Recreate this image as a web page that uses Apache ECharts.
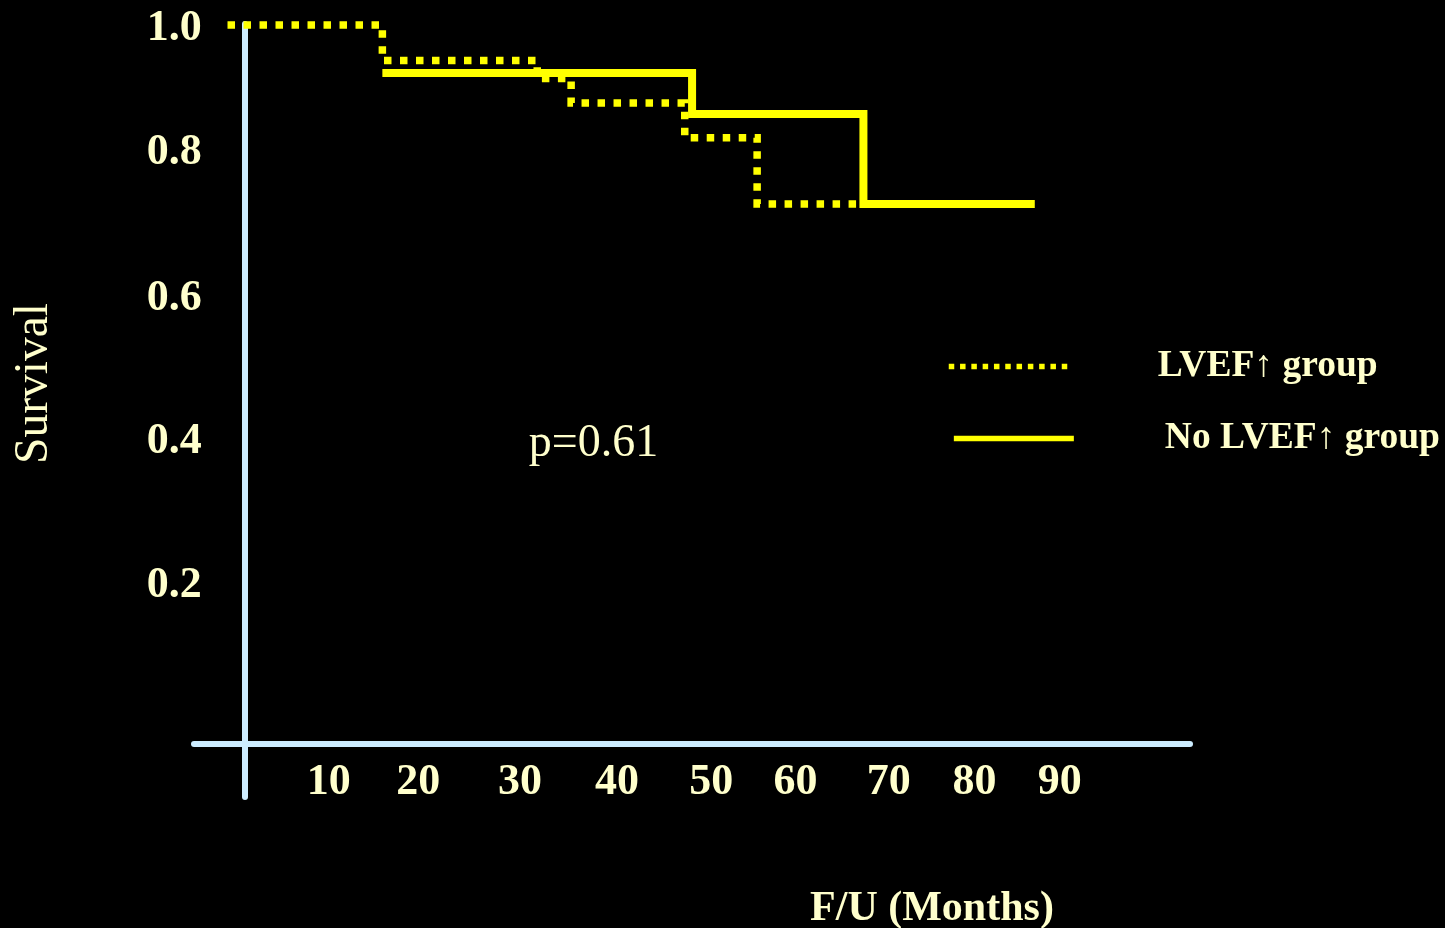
<!DOCTYPE html>
<html>
<head>
<meta charset="utf-8">
<script src="https://cdn.jsdelivr.net/npm/echarts@6/dist/echarts.min.js"></script>
<style>
html,body{margin:0;padding:0;background:#000;}
#chart{width:1445px;height:928px;}
</style>
</head>
<body>
<div id="chart"></div>
<script>
// ---- data ----
const lvefMonths = [-1.8, 15.1, 32.0, 35.7, 48.1, 56.0, 67.6];
const lvefSurvival = [1.0, 0.949, 0.923, 0.888, 0.838, 0.743, 0.743];
const noLvefMonths = [15.1, 48.9, 67.6, 86.3];
const noLvefSurvival = [0.931, 0.872, 0.743, 0.743];
const xTickValues = [10, 20, 30, 40, 50, 60, 70, 80, 90];
const yTickValues = [0.2, 0.4, 0.6, 0.8, 1.0];
const seriesNames = ['LVEF\u2191 group', 'No LVEF\u2191 group'];

// ---- styling ----
const FONT = "'Liberation Serif','Times New Roman',serif";
const TXT = '#FFFFCC';
const AX = '#CCECFF';
const YEL = '#FFFF00';

// small per-label nudges (pixels) to follow the hand-placed slide labels
const xNudge = {10: -7, 20: -9, 30: 1, 40: 6.5, 50: 9, 60: 1.7, 70: 3.4, 80: -2.5, 90: -9};
const yNudge = {2: 4, 4: -1.5, 6: -4.5, 8: -11.5, 10: 4};

const xRich = {};
xTickValues.forEach(v => {
  const d = xNudge[v] || 0;
  xRich['x' + v] = {
    fontFamily: FONT, fontSize: 44, fontWeight: 'bold', color: TXT,
    padding: d > 0 ? [0, 0, 0, 2 * d] : [0, -2 * d, 0, 0]
  };
});
const yRich = {};
yTickValues.forEach(v => {
  const k = Math.round(v * 10);
  const d = yNudge[k] || 0;
  yRich['y' + k] = {
    fontFamily: FONT, fontSize: 44, fontWeight: 'bold', color: TXT,
    padding: d > 0 ? [2 * d, 0, 0, 0] : [0, 0, -2 * d, 0]
  };
});

const zip = (a, b) => a.map((x, i) => [x, b[i]]);

const chart = echarts.init(document.getElementById('chart'), null, {renderer: 'canvas'});

const legendBase = (name, left, top, lineStyle, gap) => ({
  data: [name],
  left: left, top: top, padding: 0,
  itemWidth: 120, itemHeight: 40,
  selectedMode: false,
  lineStyle: lineStyle,
  itemStyle: {opacity: 0},
  formatter: n => '{t|' + n + '}',
  textStyle: {
    rich: {t: {fontFamily: FONT, fontSize: 37.5, fontWeight: 'bold', color: TXT, padding: [0, 0, 0, gap]}}
  }
});

const option = {
  backgroundColor: '#000000',
  animation: false,
  grid: [
    {left: 194, right: 255, top: 24, bottom: 184.7},
    {left: 244.7, right: 255, top: 24, bottom: 131}
  ],
  xAxis: [
    {
      gridIndex: 0, type: 'value', min: -5.457, max: 103.24,
      axisLine: {show: true, onZero: false, lineStyle: {color: AX, width: 6}},
      axisTick: {show: false},
      splitLine: {show: false},
      axisLabel: {
        customValues: xTickValues, margin: 17,
        formatter: v => '{x' + v + '|' + v + '}',
        rich: xRich
      }
    },
    {gridIndex: 1, type: 'value', min: 0, max: 1, show: false}
  ],
  yAxis: [
    {gridIndex: 0, type: 'value', min: -0.03167, max: 1.001436, show: false},
    {
      gridIndex: 1, type: 'value', min: -0.1088, max: 1.001436,
      axisLine: {show: true, onZero: false, lineStyle: {color: AX, width: 6}},
      axisTick: {show: false},
      splitLine: {show: false},
      axisLabel: {
        customValues: yTickValues, margin: 43,
        formatter: v => '{y' + Math.round(v * 10) + '|' + v.toFixed(1) + '}',
        rich: yRich
      }
    }
  ],
  legend: [
    legendBase(seriesNames[0], 946, 347.5, {width: 5.5, type: [5.5, 5.8], cap: 'butt'}, 84),
    legendBase(seriesNames[1], 951, 419.5, {width: 5.7, type: 'solid', cap: 'butt'}, 86)
  ],
  series: [
    {
      name: seriesNames[0], type: 'line', xAxisIndex: 0, yAxisIndex: 0,
      data: zip(lvefMonths, lvefSurvival), step: 'end',
      symbol: 'none', showSymbol: false, clip: false, z: 3,
      itemStyle: {color: YEL},
      lineStyle: {color: YEL, width: 7.5, type: [7.5, 8.5], cap: 'butt', join: 'miter'}
    },
    {
      name: seriesNames[1], type: 'line', xAxisIndex: 0, yAxisIndex: 0,
      data: zip(noLvefMonths, noLvefSurvival), step: 'end',
      symbol: 'none', showSymbol: false, clip: false, z: 4,
      itemStyle: {color: YEL},
      lineStyle: {color: YEL, width: 8, type: 'solid', cap: 'butt', join: 'miter'}
    }
  ],
  graphic: [
    {type: 'text', x: 593.5, y: 444, style: {text: 'p=0.61', fontFamily: FONT, fontSize: 46, fill: TXT, align: 'center', verticalAlign: 'middle'}},
    {type: 'text', x: 35, y: 383.5, rotation: Math.PI / 2, style: {text: 'Survival', fontFamily: FONT, fontSize: 47.5, fill: TXT, align: 'center', verticalAlign: 'middle'}},
    {type: 'text', x: 932, y: 909, style: {text: 'F/U (Months)', fontFamily: FONT, fontSize: 42, fontWeight: 'bold', fill: TXT, align: 'center', verticalAlign: 'middle'}}
  ]
};
chart.setOption(option);
</script>
</body>
</html>
